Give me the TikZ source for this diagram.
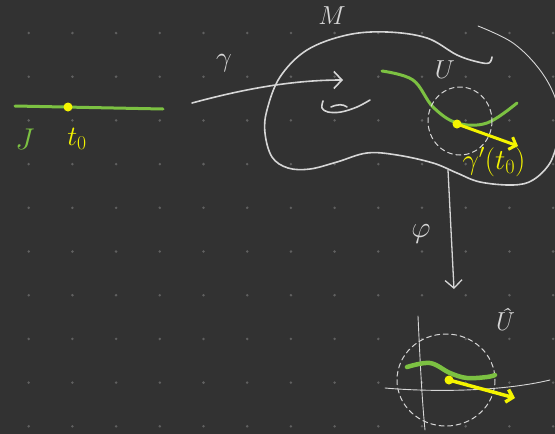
\documentclass[tikz,border=0pt]{standalone}
\usepackage{fix-cm}
\usetikzlibrary{calc,positioning,arrows.meta}
\definecolor{board}{HTML}{323232}
\definecolor{chalk}{HTML}{D6D6D6}
\definecolor{leaf}{HTML}{7CC142}
\definecolor{lemon}{HTML}{F4F400}
\definecolor{griddot}{HTML}{606060}
\tikzstyle{sketch}=[
    x=1pt,y=-1pt,line cap=round,line join=round,
    every node/.style={
        inner sep=0pt,
    },
]
\tikzstyle{chalk line}=[draw=chalk,line width=1.6pt]
\tikzstyle{thin chalk}=[draw=chalk,line width=0.9pt]
\tikzstyle{dashed chalk}=[draw=chalk,line width=1pt,dash pattern=on 5pt off 3.5pt]
\tikzstyle{curve}=[draw=leaf,line width=3pt]
\tikzstyle{tangent}=[draw=lemon,line width=3pt,-{Straight Barb[length=6pt,width=13pt]}]
\tikzstyle{map}=[chalk line,-{Straight Barb[length=8pt,width=17pt]}]
\tikzstyle{pt}=[circle,fill=lemon,minimum size=9pt]
\newcommand{\sketchlabel}[2]{\fontsize{#1}{#1}\selectfont\ensuremath{#2}}

\begin{document}
\begin{tikzpicture}[sketch]
        \useasboundingbox (0,0) rectangle (555,434);
        \clip (0,0) rectangle (555,434);
        \fill[board] (0,0) rectangle (555,434);
        \foreach \i in {0,...,12}
            \foreach \j in {0,...,9}
                \fill[griddot] ({28.7+43.7*\i},{33+43.7*\j}) circle (1.4);

        % interval J with t_0
        \coordinate (ja) at (15,106);
        \coordinate (jb) at (163,109);
        \draw[curve] (ja) -- (jb);
        \node[pt] (t0) at (68,107) {};
        \node[text=leaf] (J) at (25,139) {\sketchlabel{30}{J}};
        \node[text=lemon] (t0lab) at (77,139) {\sketchlabel{28}{t_0}};

        % manifold M
        \draw[chalk line] plot[smooth,tension=0.6] coordinates {
            (492,57) (489,63) (478,62) (457,55) (427,38) (387,32) (347,35)
            (307,50) (280,77) (267,110) (265,133) (272,157) (288,168)
            (310,169) (337,162) (367,153) (397,155) (433,163) (457,173)
            (480,182) (513,185) (533,180) (550,163) (558,140)};
        \draw[thin chalk] plot[smooth,tension=0.6] coordinates {
            (478,26) (513,43) (540,70) (556,100) (560,130)};
        \draw[chalk line] plot[smooth,tension=0.6] coordinates {
            (323,101) (322,108) (328,112) (341,112) (357,107) (370,100)};
        \draw[chalk line] (331,107) .. controls (338,104) and (343,104) .. (347,107);
        \node[text=chalk] (M) at (332,16) {\sketchlabel{26}{M}};

        % gamma
        \coordinate (gs) at (192,103);
        \coordinate (ge) at (343,80);
        \draw[map] (gs) .. controls (240,90) and (290,80) .. (ge);
        \node[text=chalk] (gamma) at (224,63) {\sketchlabel{28}{\gamma}};

        % curve in M, neighbourhood U
        \draw[curve] plot[smooth,tension=0.6] coordinates {
            (382,71) (413,80) (433,107) (457,123) (487,123) (517,103)};
        \draw[dashed chalk] (460,121) ellipse (32 and 34);
        \node[text=chalk] (U) at (445,70) {\sketchlabel{26}{U}};
        \node[pt] (p) at (457,124) {};
        \coordinate (v) at (518,146);
        \draw[tangent] (p.center) -- (v);
        \node[text=lemon] (vlab) at (494,162) {\sketchlabel{29}{\gamma'(t_0)}};

        % chart phi
        \coordinate (fs) at (448,170);
        \coordinate (fe) at (454,289);
        \draw[map,line width=1.3pt] (fs) .. controls (450,210) and (452,250) .. (fe);
        \node[text=chalk] (phi) at (421,234) {\sketchlabel{30}{\varphi}};

        % image in R^n
        \coordinate (xa) at (385,388);
        \coordinate (xb) at (550,380);
        \coordinate (ya) at (418,316);
        \coordinate (yb) at (425,430);
        \draw[thin chalk] (xa) .. controls (430,392) and (500,392) .. (xb);
        \draw[thin chalk] (ya) .. controls (420,360) and (422,400) .. (yb);
        \draw[dashed chalk] (446,380) ellipse (49 and 46);
        \node[text=chalk] (Uhat) at (502,320) {\fontsize{26}{26}\selectfont\itshape Û};
        \draw[curve,line width=4.5pt] plot[smooth,tension=0.6] coordinates {
            (407,367) (430,363) (450,373) (467,378) (487,377) (495,375)};
        \node[pt] (q) at (449,380) {};
        \coordinate (w) at (515,398);
        \draw[tangent,line width=3.5pt] (q.center) -- (w);
\end{tikzpicture}
\end{document}
